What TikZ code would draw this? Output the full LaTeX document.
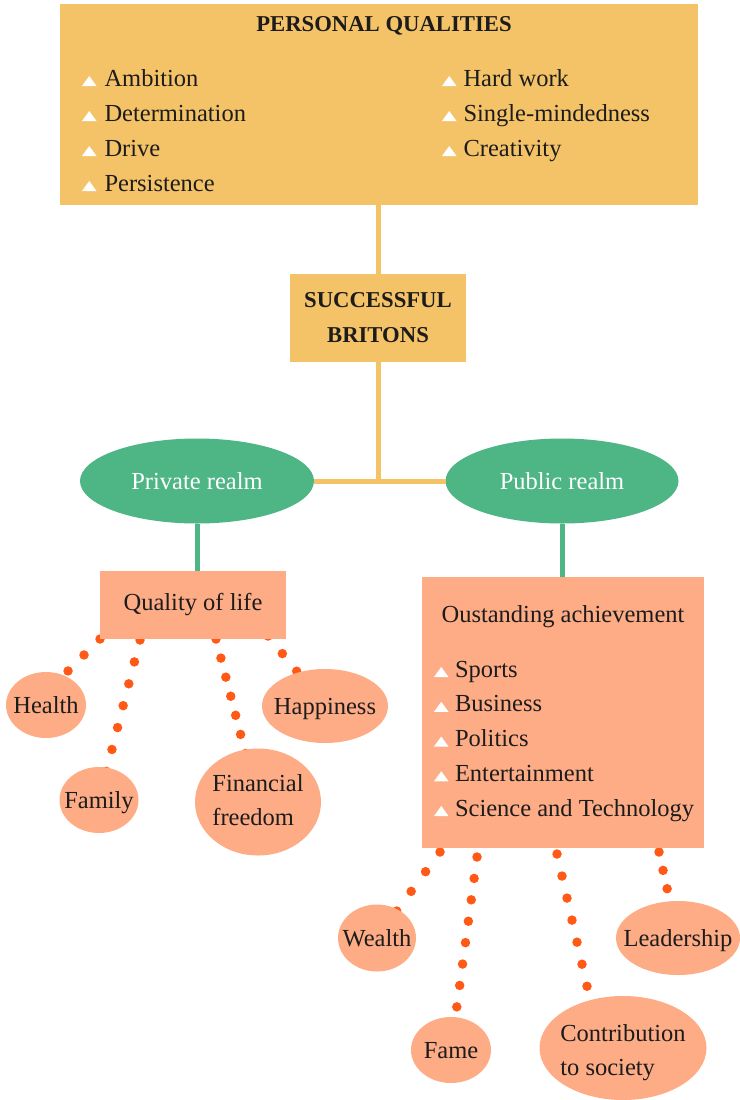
\documentclass[tikz,border=0pt]{standalone}
\usepackage{fontspec}
\setmainfont{Liberation Serif}
\usetikzlibrary{shapes.geometric,backgrounds,calc}
\definecolor{gold}{RGB}{245,195,103}
\definecolor{leaf}{RGB}{78,181,133}
\definecolor{salmon}{RGB}{253,172,134}
\definecolor{dotc}{RGB}{255,89,21}
\definecolor{ink}{RGB}{28,28,28}
\newcommand\tri{\tikz[baseline=0pt]\fill[white] (0pt,0pt) -- (14.5pt,0pt) -- (7.25pt,10pt) -- cycle;}
\newcommand\zbox[1]{\makebox[0pt]{\raisebox{0pt}[\height][0pt]{#1}}}
\newcommand\ztwo[3]{\makebox[0pt]{\raisebox{#3}[\height][\depth]{\begin{tabular}{@{}l@{}}#1\\#2\end{tabular}}}}
\begin{document}
\begin{tikzpicture}[x=1pt,y=-1pt,
  every node/.style={text=ink, inner sep=0pt, outer sep=0pt},
  goldbox/.style={rectangle, fill=gold},
  salbox/.style={rectangle, fill=salmon},
  realm/.style={ellipse, fill=leaf, text=white, font=\fontsize{24.5}{34}\selectfont},
  oval/.style={ellipse, fill=salmon, font=\fontsize{24.5}{34}\selectfont},
  headtxt/.style={font=\bfseries\fontsize{22.7}{35}\selectfont},
  item/.style={anchor=base west, font=\fontsize{24.5}{34}\selectfont},
  bodytxt/.style={font=\fontsize{24.5}{34}\selectfont},
  goldline/.style={draw=gold, line width=5pt},
  leafline/.style={draw=leaf, line width=5pt},
  dotline/.style={draw=dotc, line width=9.5pt, line cap=round, dash pattern=on 0pt off #1},
  dotline/.default=22.6pt]
\useasboundingbox (0,0) rectangle (739,1100);

% top box
\node[goldbox, minimum width=638pt, minimum height=201pt] (pq) at (379,104.5) {};
\node[headtxt] (pqt) at (384,26) {PERSONAL QUALITIES};
\foreach \t [count=\i] in {Ambition, Determination, Drive, Persistence}
  \node[item] (pqa\i) at (82,{86+35*(\i-1)}) {\tri\hspace{8pt}\t};
\foreach \t [count=\i] in {Hard work, Single-mindedness, Creativity}
  \node[item] (pqb\i) at (442,{86+35*(\i-1)}) {\tri\hspace{7pt}\t};

% centre box
\node[goldbox, minimum width=176pt, minimum height=88pt, align=center, headtxt] (sb) at (378,318) {SUCCESSFUL\\BRITONS};

% realms
\node[realm, minimum width=234pt, minimum height=85pt] (priv) at (197,481) {\zbox{Private realm}};
\node[realm, minimum width=233pt, minimum height=85pt] (pub) at (562,481) {\zbox{Public realm}};

% quality of life
\node[salbox, minimum width=186pt, minimum height=68pt, bodytxt] (qol) at (193,605) {Quality of life};

% outstanding achievement
\node[salbox, minimum width=282pt, minimum height=271pt] (oa) at (563,712.5) {};
\node[bodytxt] (oat) at (563,617) {Oustanding achievement};
\foreach \t [count=\i] in {Sports, Business, Politics, Entertainment, Science and Technology}
  \node[item] (oai\i) at (434,{677+34.75*(\i-1)}) {\tri\hspace{6.5pt}\t};

% ovals
\node[oval, minimum width=80pt, minimum height=66pt] (health) at (46,705) {\zbox{Health}};
\node[oval, minimum width=79pt, minimum height=66pt] (family) at (99,800) {\zbox{Family}};
\node[oval, minimum width=126pt, minimum height=107pt] (fin) at (258,802) {\ztwo{Financial}{freedom}{0pt}};
\node[oval, minimum width=126pt, minimum height=74pt] (happy) at (325,706) {\zbox{Happiness}};
\node[oval, minimum width=78pt, minimum height=67pt] (wealth) at (377,938) {\zbox{Wealth}};
\node[oval, minimum width=80pt, minimum height=66pt] (fame) at (451,1050) {\zbox{Fame}};
\node[oval, minimum width=167pt, minimum height=104pt] (contrib) at (623,1048) {\ztwo{Contribution}{to society}{-4pt}};
\node[oval, minimum width=124pt, minimum height=74pt] (lead) at (678,938) {\zbox{Leadership}};

% solid connectors
\draw[goldline] (sb.north |- pq.south) -- (sb.north);
\draw[goldline] (sb.south) -- (sb.south |- priv.east);
\draw[goldline] (priv.east) -- (pub.west);
\draw[leafline] (priv.south) -- (priv.south |- qol.north);
\draw[leafline] (pub.south) -- (pub.south |- oa.north);

% dotted connectors
\begin{pgfonlayer}{background}
\draw[dotline=22.6pt] (qol.south west) -- ($(health.center)+(-12,0)$);
\draw[dotline=22.6pt] ($(qol.south west)+(40,1)$) -- (family.center);
\draw[dotline=19.7pt] ($(qol.south west)+(116,0)$) -- (fin.center);
\draw[dotline=22.7pt] ($(qol.south east)+(-18,-3)$) -- (happy.center);
\draw[dotline=24.4pt] ($(oa.south west)+(18,4)$) -- (wealth.center);
\draw[dotline=21.6pt] ($(oa.south west)+(55,9)$) -- (fame.center);
\draw[dotline=22.6pt] ($(oa.south west)+(135,6)$) -- ($(contrib.center)+(-22,0)$);
\draw[dotline=18.8pt] ($(oa.south west)+(237,4)$) -- (lead.center);
\end{pgfonlayer}
\end{tikzpicture}
\end{document}
